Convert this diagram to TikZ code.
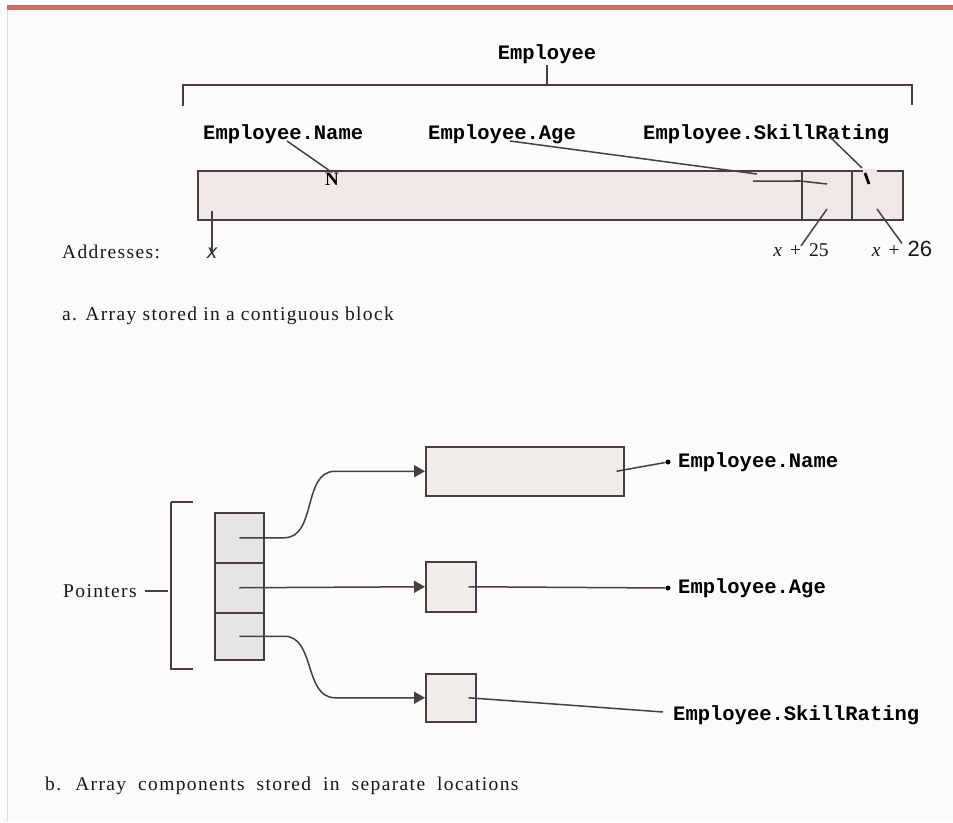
\documentclass[tikz,border=0pt]{standalone}
\usepackage{fontspec}
\setmainfont{Liberation Serif}
\newfontfamily\monof{Liberation Mono}
\newfontfamily\capf{Liberation Serif}[LetterSpace=7]
\newfontfamily\sansf{Liberation Sans}
\usetikzlibrary{arrows.meta}
\definecolor{bandc}{HTML}{C2705F}
\definecolor{bgc}{HTML}{FCFAFA}
\definecolor{linec}{HTML}{444040}
\definecolor{blockc}{HTML}{EFE8E6}
\definecolor{boxc}{HTML}{F1EBE9}
\definecolor{cellc}{HTML}{E6E4E4}
\definecolor{edgec}{HTML}{E0DCDC}
\tikzset{
  ln/.style={draw=linec, line width=1.5pt},
  monolbl/.style={inner sep=0pt, anchor=base west, font=\monof\bfseries\fontsize{20.5}{24}\selectfont, text=black},
  caplbl/.style={inner sep=0pt, anchor=base west, font=\capf\fontsize{19.5}{23}\selectfont, text=black!90},
  numlbl/.style={inner sep=0pt, anchor=base, font=\fontsize{19.5}{22}\selectfont, text=black!90},
  memblock/.style={draw=linec, line width=1.5pt, fill=blockc, anchor=north west, inner sep=0pt},
  membox/.style={draw=linec, line width=1.5pt, fill=boxc, anchor=north west, inner sep=0pt},
  ptrcell/.style={draw=linec, line width=1.5pt, fill=cellc, anchor=north west, inner sep=0pt, minimum width=49pt},
  ptrarrow/.style={ln, -{Triangle[length=11pt,width=12pt]}},
  dotmark/.style={circle, fill=black, inner sep=0pt, minimum size=5pt},
}
\begin{document}
\begin{tikzpicture}[x=1pt,y=-1pt]
\useasboundingbox (0,0) rectangle (953,822);
\fill[bgc] (0,0) rectangle (953,822);
% top band and left edge
\fill[bandc] (7,4.5) rectangle (953,10);
\draw[edgec, line width=0.8pt] (7.5,10) -- (7.5,822);

% ---------- part a ----------
\node[monolbl, anchor=base] (emp) at (547,59) {Employee};
\draw[ln] (183,106) -- (183,85) -- (912,85) -- (912,105);
\draw[ln] (547,85) -- (547,65);

\node[monolbl] (lname) at (203,139) {Employee.Name};
\node[monolbl] (lage) at (428,139) {Employee.Age};
\node[monolbl] (lskill) at (643,139) {Employee.SkillRating};

\node[memblock, minimum width=705pt, minimum height=49pt] (blk) at (197,170) {};
\draw[ln] (802,170) -- (802,219);
\draw[ln] (852,170) -- (852,219);
\draw[blockc, line width=3pt] (863,170) -- (877,170);

\node[inner sep=0pt, anchor=base, font=\bfseries\fontsize{19}{20}\selectfont] (nmark) at (332,185) {N};
\coordinate (nstart) at (287,141);
\draw[ln] (nstart) -- (nmark.north);

\coordinate (astart) at (510,141);
\coordinate (aend) at (757,174);
\draw[ln] (astart) -- (aend);
\coordinate (ah1) at (753,181);
\coordinate (ah2) at (800,181);
\coordinate (ah3) at (827,184);
\draw[ln] (ah1) -- (ah2) -- (ah3);
\draw[linec, line width=2.6pt] (795,181) -- (800,181);

\coordinate (sstart) at (830,137);
\coordinate (send) at (862,168);
\draw[ln] (sstart) -- (send);
\draw[black, line width=2.8pt] (865,173) -- (869,184);

\node[caplbl] (addr) at (62,258) {Addresses:};
\node[inner sep=0pt, anchor=base, font=\sansf\itshape\fontsize{20}{22}\selectfont, text=black!85] (ax) at (212,258) {x};
\coordinate (axtop) at (212,211);
\draw[ln] (axtop) -- ([yshift=-4pt]ax.north);

\node[numlbl] (a25) at (801,256) {\textit{x}\ \,+\ \,25};
\coordinate (a25top) at (827,209);
\draw[ln] (a25top) -- ([yshift=-3pt]a25.north);

\node[numlbl] (a26) at (902,256) {\textit{x}\ \,+\ \,{\sansf\fontsize{22}{24}\selectfont 26}};
\coordinate (a26top) at (877,209);
\draw[ln] (a26top) -- ([yshift=-3pt]a26.north);

\node[caplbl] (capa) at (62,320) {a. Array stored in a contiguous block};

% ---------- part b ----------
\node[caplbl] (ptrs) at (63,597) {Pointers};
\draw[ln] (171,502) -- (193,502);
\draw[ln] (171,502) -- (171,669) -- (193,669);
\coordinate (brk) at (168,591);
\draw[ln] ([xshift=8pt]ptrs.east |- brk) -- (brk);

\node[ptrcell, minimum height=50pt] (c1) at (214,512) {};
\node[ptrcell, minimum height=50pt] (c2) at (214,562) {};
\node[ptrcell, minimum height=47pt] (c3) at (214,612) {};

\node[membox, minimum width=198pt, minimum height=49pt] (nbox) at (425,446) {};
\node[membox, minimum width=50pt, minimum height=50pt] (abox) at (425,561) {};
\node[membox, minimum width=50pt, minimum height=48pt] (sbox) at (425,673) {};

\draw[ptrarrow] (c1.center) -- ++(45,0) to[out=0,in=180] ([xshift=-90pt]nbox.west) -- (nbox.west);
\draw[ptrarrow] (c2.center) -- (abox.west);
\draw[ptrarrow] (c3.center) -- ++(45,0) to[out=0,in=180] ([xshift=-90pt]sbox.west) -- (sbox.west);

\node[dotmark] (dn) at (668,462) {};
\node[dotmark] (da) at (668,588) {};
\node[monolbl] (bname) at (678,467) {Employee.Name};
\node[monolbl] (bage) at (678,593) {Employee.Age};
\node[monolbl] (bskill) at (673,720) {Employee.SkillRating};
\coordinate (sk) at (663,712);

\draw[ln] ([xshift=-8pt]nbox.east) -- (dn);
\draw[ln] ([xshift=-8pt]abox.east) -- (da);
\draw[ln] ([xshift=-8pt]sbox.east) -- (sk);

\node[caplbl] (capb) at (45,790) {\spaceskip=12pt b. Array components stored in separate locations};
\end{tikzpicture}
\end{document}
